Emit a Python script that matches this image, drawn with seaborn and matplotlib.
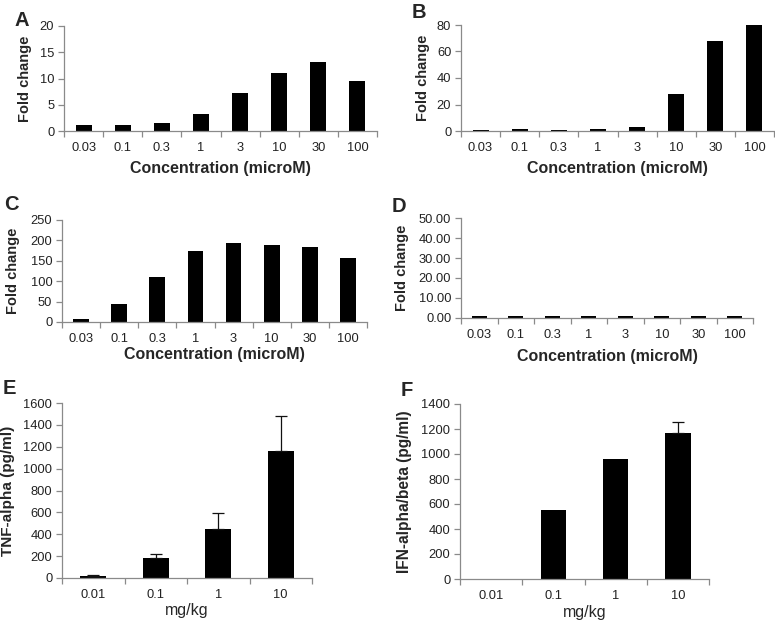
import matplotlib
matplotlib.use("Agg")
import matplotlib.pyplot as plt
import seaborn as sns
import pandas as pd
import numpy as np
from matplotlib.ticker import FixedLocator, FormatStrFormatter

sns.set_theme(style="white")
plt.rcParams['font.family'] = ['Liberation Sans', 'DejaVu Sans']

conc = ["0.03", "0.1", "0.3", "1", "3", "10", "30", "100"]
vals_a = [1.2, 1.2, 1.6, 3.3, 7.2, 11.1, 13.2, 9.6]
vals_b = [1.0, 1.2, 1.0, 1.2, 3.0, 28.0, 68.0, 80.0]
vals_c = [8, 43, 111, 173, 193, 189, 183, 158]
vals_d = [1.2, 0.9, 0.8, 0.9, 0.9, 0.9, 0.9, 0.8]

dose = ["0.01", "0.1", "1", "10"]
tnf = [15, 180, 450, 1165]
tnf_err = [12, 40, 140, 315]
ifn = [2, 550, 960, 1165]
ifn_err = [0, 0, 0, 95]

W, H = 775, 622
fig = plt.figure(figsize=(W / 100, H / 100), dpi=100)

def make_ax(l, r, t, b):
    ax = fig.add_axes([l / W, 1 - b / H, (r - l) / W, (b - t) / H])
    ax._px = (l, r, t, b)
    return ax

SPINE = "#8a8a8a"

def panel(ax, cats, vals, ymax, ystep, ylabel, xlabel, letter, lxy, ylab_x, xlab_y,
          fmt=None, err=None, xlabel_bold=True, ylab_size=10.5):
    l, r, t, b = ax._px
    df = pd.DataFrame({"x": cats, "y": vals})
    sns.barplot(data=df, x="x", y="y", color="black", width=0.41,
                saturation=1, ax=ax, errorbar=None, order=cats)
    for p in ax.patches:
        p.set_linewidth(0)
    if err is not None:
        idx = [i for i, e in enumerate(err) if e > 0]
        xs = np.array(idx, dtype=float)
        ys = np.array([vals[i] for i in idx])
        es = np.array([err[i] for i in idx])
        ax.errorbar(xs, ys, yerr=[np.zeros(len(es)), es], fmt="none",
                    ecolor="#111111", elinewidth=0.9, capsize=4, capthick=0.9)
    n = len(cats)
    ax.set_xlim(-0.5, n - 0.5)
    ax.set_ylim(0, ymax)
    ax.yaxis.set_major_locator(FixedLocator(np.arange(0, ymax + ystep / 2, ystep)))
    if fmt:
        ax.yaxis.set_major_formatter(FormatStrFormatter(fmt))
    ax.xaxis.set_minor_locator(FixedLocator(np.arange(-0.5, n, 1.0)))
    ax.tick_params(axis="x", which="major", length=0, pad=8, labelsize=9.3,
                   colors="#222222")
    ax.tick_params(axis="x", which="minor", length=4, width=0.9, color=SPINE,
                   direction="out", bottom=True)
    ax.tick_params(axis="y", which="major", length=4, width=0.9, color=SPINE,
                   direction="out", left=True, labelsize=9.3, labelcolor="#222222",
                   pad=3)
    for s in ["top", "right"]:
        ax.spines[s].set_visible(False)
    for s in ["left", "bottom"]:
        ax.spines[s].set_color(SPINE)
        ax.spines[s].set_linewidth(0.9)
    ax.set_ylabel(ylabel, fontsize=ylab_size, fontweight="bold")
    ax.set_xlabel(xlabel, fontsize=11.5,
                  fontweight="bold" if xlabel_bold else "normal")
    ax.yaxis.set_label_coords((ylab_x - l) / (r - l), 0.5)
    ax.yaxis.label.set_va("center")
    ax.xaxis.set_label_coords(0.5, (b - xlab_y) / (b - t))
    ax.xaxis.label.set_va("center")
    fig.text(lxy[0] / W, 1 - lxy[1] / H, letter, fontsize=14.5, fontweight="bold",
             ha="left", va="center")

xl = "Concentration (microM)"
yl = "Fold change"

axA = make_ax(64, 377, 26, 131)
panel(axA, conc, vals_a, 20, 5, yl, xl, "A", (14, 20), 25, 168)

axB = make_ax(461, 774, 25, 131)
panel(axB, conc, vals_b, 80, 20, yl, xl, "B", (412, 13), 423, 168)

axC = make_ax(62, 367, 220, 322)
panel(axC, conc, vals_c, 250, 50, yl, xl, "C", (4, 204), 13, 355)

axD = make_ax(461, 753, 218, 318)
panel(axD, conc, vals_d, 50, 10, yl, xl, "D", (392, 206), 402, 356, fmt="%.2f")

axE = make_ax(62, 312, 403, 578)
panel(axE, dose, tnf, 1600, 200, "TNF-alpha (pg/ml)", "mg/kg", "E", (3, 389), 8, 610,
      err=tnf_err, xlabel_bold=False, ylab_size=11)

axF = make_ax(460, 709, 404, 579)
panel(axF, dose, ifn, 1400, 200, "IFN-alpha/beta (pg/ml)", "mg/kg", "F", (401, 390), 405, 613,
      err=ifn_err, xlabel_bold=False, ylab_size=11.2)

fig.savefig("out.png", dpi=100)
